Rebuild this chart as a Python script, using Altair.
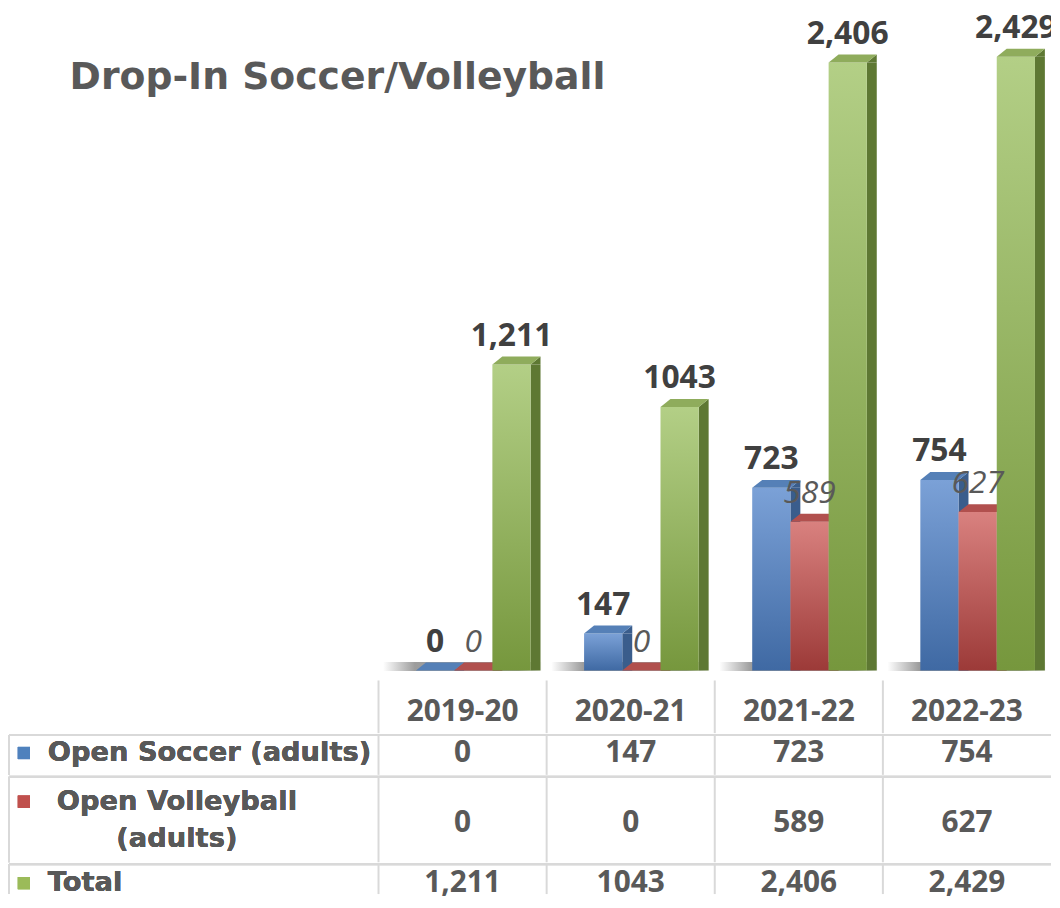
import altair as alt
import pandas as pd

# ---------------- data ----------------
title_text = ["Drop-In Soccer/Volleyball"]
years = ["2019-20", "2020-21", "2021-22", "2022-23"]
series = ["Open Soccer (adults)", "Open Volleyball (adults)", "Total"]
soccer = [0, 147, 723, 754]
volleyball = [0, 0, 589, 627]
total = [1211, 1043, 2406, 2429]
soccer_text = ["0", "147", "723", "754"]
volleyball_text = ["0", "0", "589", "627"]
total_text = ["1,211", "1043", "2,406", "2,429"]
row_labels = ["Open Soccer (adults)", "Open Volleyball\n(adults)", "Total"]

records = []
for s, vals, txts, lab in zip(series, [soccer, volleyball, total],
                              [soccer_text, volleyball_text, total_text], row_labels):
    for yr, v, t in zip(years, vals, txts):
        records.append({"year": yr, "series": s, "value": v, "label": t, "rowlabel": lab})
df = pd.DataFrame(records)

# ---------------- style ----------------
W, H = 677, 664
LEFT = -372          # left edge of the label column, relative to the plot
GRID = "#d9d9d9"
TEXT_DARK = "#404040"
TEXT_MID = "#595959"

styles = [
    {"top": "#7ba1d7", "bottom": "#3f69a3", "side": "#3a5d8c", "face": "#5580b7", "key": "#4f81bd"},
    {"top": "#d9817f", "bottom": "#9c3a38", "side": "#86312f", "face": "#b1504e", "key": "#c0504d"},
    {"top": "#b3cf86", "bottom": "#76973d", "side": "#5e7833", "face": "#8fac5c", "key": "#9bbb59"},
]

# band geometry (within a ~169px year band): bars ~38.5px wide, starting ~37.6px in
SZ = 2304  # symbol scale: sqrt(SZ)/2 = 24 px per unit
TOP_FACE = "M -0.801 0 L 0.801 0 L 1.218 -0.3333 L -0.384 -0.3333 Z"
SIDE_TRI = "M 0.801 0 L 1.218 -0.3333 L 1.218 0 Z"

x_scale = alt.Scale(type="band", domain=years, paddingInner=0, paddingOuter=0, round=False)
xo_front = alt.Scale(type="band", domain=series, paddingInner=0, paddingOuter=0.7,
                     align=0.7, round=False)
xo_side = alt.Scale(type="band", domain=[" "] + series, paddingInner=0.74, paddingOuter=0.57,
                    align=0.8595, round=False)
y_scale = alt.Scale(domain=[0, 2610], nice=False, zero=True)

X = alt.X("year:N", scale=x_scale, axis=None)
XO = alt.XOffset("series:N", scale=xo_front)
XO_SIDE = alt.XOffset("series:N", scale=xo_side)
Y = alt.Y("value:Q", scale=y_scale, axis=None)


def vgrad(c1, c2):
    return alt.LinearGradient(
        gradient="linear",
        stops=[alt.GradientStop(color=c1, offset=0), alt.GradientStop(color=c2, offset=1)],
        x1=0, x2=0, y1=0, y2=1,
    )


shadow_grad = alt.LinearGradient(
    gradient="linear",
    stops=[alt.GradientStop(color="#ffffff", offset=0),
           alt.GradientStop(color="#3a3a3a", offset=0.2),
           alt.GradientStop(color="#3a3a3a", offset=0.85),
           alt.GradientStop(color="#ffffff", offset=1)],
    x1=0, x2=1, y1=0, y2=0,
)

base = alt.Chart(df)

layers = [
    alt.Chart(pd.DataFrame({"title": title_text}))
    .mark_text(font="DejaVu Sans", fontWeight="bold", fontSize=38, color=TEXT_MID,
               align="left", baseline="alphabetic")
    .encode(x=alt.value(-311), y=alt.value(79), text="title:N"),
    base.transform_filter(alt.FieldEqualPredicate(field="series", equal="Total"))
    .mark_tick(thickness=9, size=160, yOffset=-4, opacity=0.5, color=shadow_grad)
    .encode(x=X, y=alt.Y(datum=0, scale=y_scale, axis=None)),
]

for s, st in zip(series, styles):
    sub = base.transform_filter(alt.FieldEqualPredicate(field="series", equal=s))
    layers += [
        sub.mark_bar(color=st["side"]).encode(x=X, xOffset=XO_SIDE, y=Y),
        sub.mark_point(shape=SIDE_TRI, size=SZ, filled=True, opacity=1, strokeWidth=0,
                       color=st["side"]).encode(x=X, xOffset=XO, y=Y),
        sub.mark_bar(color=vgrad(st["top"], st["bottom"])).encode(x=X, xOffset=XO, y=Y),
        sub.mark_point(shape=TOP_FACE, size=SZ, filled=True, opacity=1, strokeWidth=0,
                       color=st["face"]).encode(x=X, xOffset=XO, y=Y),
    ]

layers += [
    base.transform_filter(alt.FieldOneOfPredicate(field="series", oneOf=[series[0], series[2]]))
    .mark_text(font="Open Sans", fontWeight="bold", fontSize=32, color=TEXT_DARK,
               baseline="alphabetic", dy=-19, clip=True)
    .encode(x=X, xOffset=XO, y=Y, text="label:N"),
    base.transform_filter(alt.FieldEqualPredicate(field="series", equal=series[1]))
    .mark_text(font="Open Sans", fontStyle="italic", fontWeight="normal", fontSize=32,
               color=TEXT_MID, baseline="alphabetic", dy=-19, clip=True)
    .encode(x=X, xOffset=XO, y=Y, text="label:N"),
]

bars = (
    alt.layer(*layers)
    .resolve_scale(xOffset="independent")
    .properties(width=W, height=H)
)

# ---------------- data table ----------------
XB = alt.X("year:N", scale=x_scale, axis=None, bandPosition=0)

hdr = alt.Chart(pd.DataFrame({"year": years, "row": ["hdr"] * len(years)}))
header = alt.layer(
    hdr.mark_rule(color=GRID, strokeWidth=2).encode(x=XB),
    hdr.mark_text(font="Open Sans", fontWeight="bold", fontSize=30, color=TEXT_MID, dy=5)
    .encode(x=X, y=alt.Y("row:N", axis=None), text="year:N"),
).properties(width=W, height=53)


def row_panel(i, h, dy_text, dy_label, label_align, label_x):
    sub = base.transform_filter(alt.FieldEqualPredicate(field="series", equal=series[i]))
    YR = alt.Y("series:N", axis=None)
    return alt.layer(
        sub.mark_rule(color=GRID, strokeWidth=2).encode(
            x=alt.value(LEFT), x2=alt.value(W), y=alt.value(0)),
        sub.mark_rule(color=GRID, strokeWidth=2).encode(
            x=alt.value(LEFT), y=alt.value(0), y2=alt.value(h)),
        sub.mark_rule(color=GRID, strokeWidth=2).encode(x=XB),
        sub.mark_square(size=150, opacity=1, color=styles[i]["key"], yOffset=dy_label).encode(
            x=alt.value(LEFT + 15), y=YR),
        sub.mark_text(font="DejaVu Sans", fontWeight="bold", fontSize=27.5, color=TEXT_MID,
                      align=label_align, lineBreak="\n", lineHeight=38, dy=dy_label)
        .encode(x=alt.value(label_x), y=YR, text="rowlabel:N"),
        sub.mark_text(font="Open Sans", fontWeight="bold", fontSize=30, color=TEXT_MID,
                      dy=dy_text)
        .encode(x=X, y=YR, text="label:N"),
    ).properties(width=W, height=h)


table = alt.vconcat(
    header,
    row_panel(0, 40, -2, -2, "left", LEFT + 39),
    row_panel(1, 86, 4, -18, "center", LEFT + 169),
    row_panel(2, 30, 4, 4, "left", LEFT + 39),
    spacing=0,
)

chart = (
    alt.vconcat(bars, table, spacing=8)
    .properties(padding={"left": 0, "top": 0, "right": 0, "bottom": 0}, background="white")
    .configure_view(strokeWidth=0)
)

chart.save("out.html", embed_options={"renderer": "svg", "actions": False})
